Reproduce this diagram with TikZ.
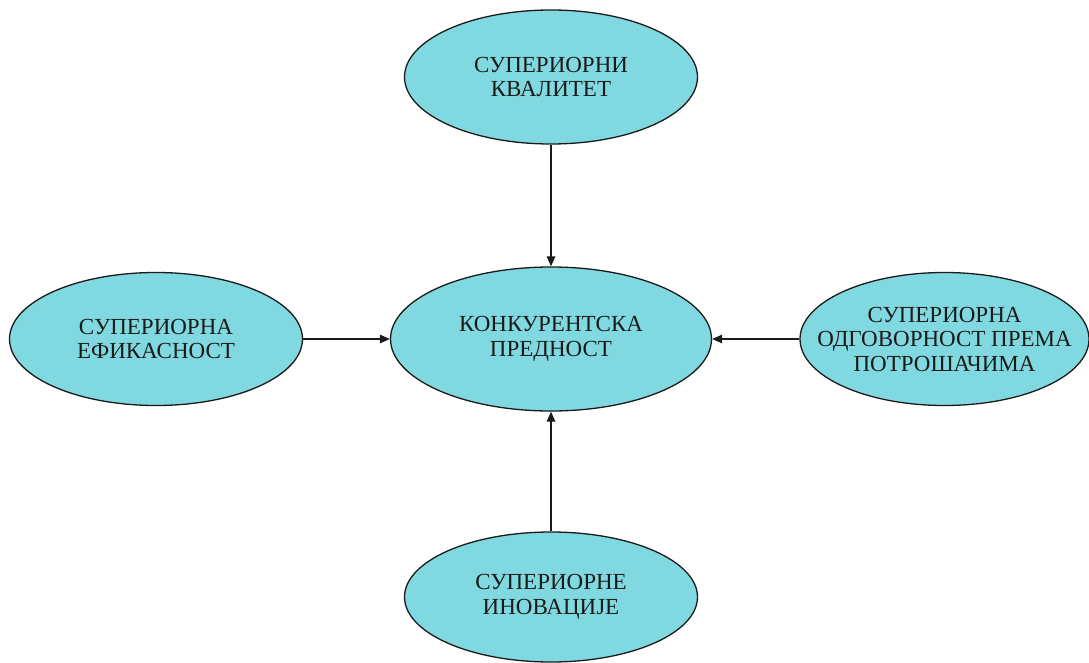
\documentclass[tikz,border=0pt]{standalone}
\usepackage{fontspec}
\setmainfont{Liberation Serif}
\usetikzlibrary{shapes.geometric,arrows.meta}
\definecolor{bubble}{HTML}{80D9E0}
\definecolor{ink}{HTML}{1A1A1A}
\tikzset{
  bubble/.style={ellipse, draw=ink, line width=1.3pt, fill=bubble, inner sep=0pt},
  caption/.style={align=center, text=ink, inner sep=0pt,
    font=\fontsize{23}{24.5}\selectfont},
  link/.style={draw=ink, line width=1.3pt, -{Triangle[length=10pt,width=8.5pt]}}
}
\begin{document}
\begin{tikzpicture}[x=1pt,y=-1pt]
  \useasboundingbox (0,0) rectangle (1089,663);
  % ellipses
  \node[bubble, minimum width=293pt, minimum height=134pt] (qual) at (551,77) {};
  \node[bubble, minimum width=321pt, minimum height=144pt] (adv) at (551,339) {};
  \node[bubble, minimum width=293pt, minimum height=133pt] (eff) at (156,339) {};
  \node[bubble, minimum width=289pt, minimum height=133pt] (resp) at (944.5,339) {};
  \node[bubble, minimum width=293pt, minimum height=130pt] (inno) at (551,597) {};
  % captions
  \node[caption] (qualtext) at (qual) {СУПЕРИОРНИ\\КВАЛИТЕТ};
  \node[caption] (advtext) at (adv) {КОНКУРЕНТСКА\\ПРЕДНОСТ};
  \node[caption] (efftext) at (eff) {СУПЕРИОРНА\\ЕФИКАСНОСТ};
  \node[caption] (resptext) at (resp) {СУПЕРИОРНА\\ОДГОВОРНОСТ ПРЕМА\\ПОТРОШАЧИМА};
  \node[caption] (innotext) at (inno) {СУПЕРИОРНЕ\\ИНОВАЦИЈЕ};
  % connectors
  \draw[link] (qual) -- (adv);
  \draw[link] (eff) -- (adv);
  \draw[link] (resp) -- (adv);
  \draw[link] (inno) -- (adv);
\end{tikzpicture}
\end{document}
